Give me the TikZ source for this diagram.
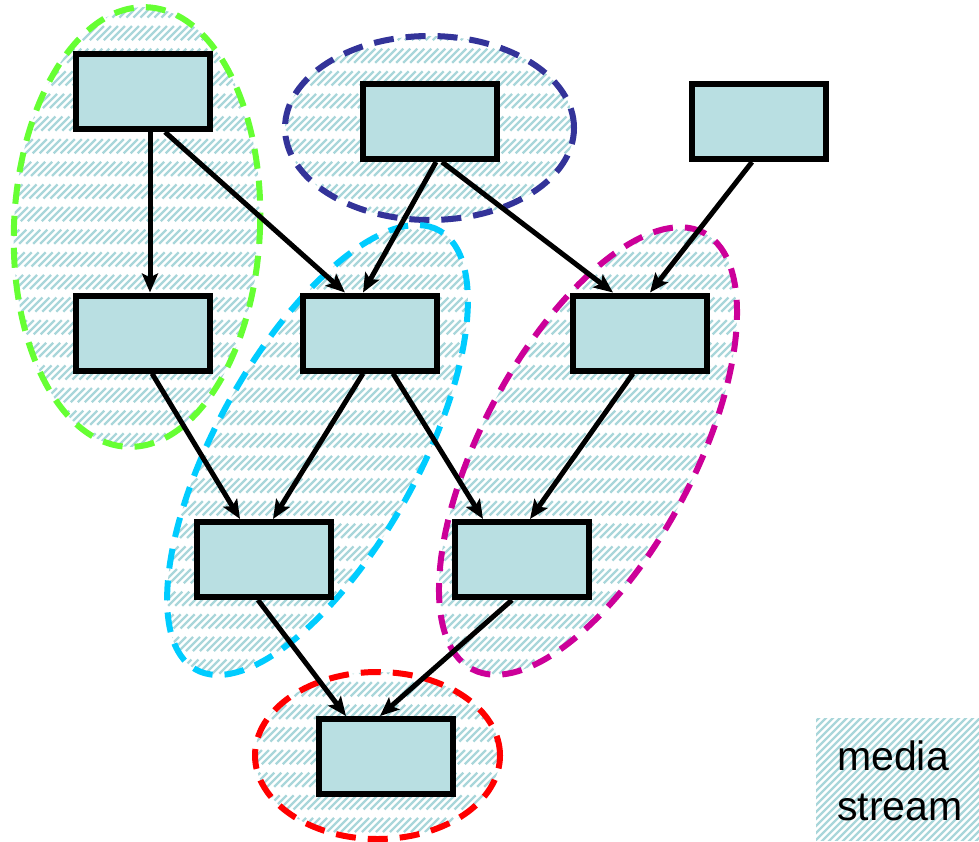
\documentclass[tikz,border=0pt]{standalone}
\usepackage{fontspec}
\setmainfont{Liberation Sans}
\usetikzlibrary{arrows.meta}

\definecolor{boxfill}{HTML}{B9DFE2}
\definecolor{hatch}{HTML}{A9D6DA}
\definecolor{grpgreen}{HTML}{66FF33}
\definecolor{grpblue}{HTML}{333399}
\definecolor{grpcyan}{HTML}{00CCFF}
\definecolor{grpmagenta}{HTML}{CC0099}
\definecolor{grpred}{HTML}{FF0000}

\begin{document}
\begin{tikzpicture}[%
    x=1pt, y=1pt,
    >={Stealth[length=19pt,width=16pt,inset=4pt]},
    block/.style={draw, line width=6pt, fill=boxfill,
      minimum width=134pt, minimum height=75pt, inner sep=0pt},
    flow/.style={->, line width=5pt},
    hatched/.style={path picture={
        \foreach \k in {-130,...,133}
          \draw[hatch, line width=2.4pt] (\k*7,-900) -- ++(900,900);
      }},
    stream/.style={hatched, draw=#1, line width=6pt,
      dash pattern=on 20pt off 12pt}
  ]
  \useasboundingbox (0,0) rectangle (979,-842);

  % media streams
  \draw[stream=grpgreen]   (137,-227)   ellipse [x radius=123, y radius=220, rotate=-2.6];
  \draw[stream=grpblue]    (429.5,-128) ellipse [x radius=144.5, y radius=92];
  \draw[stream=grpcyan]    (317.5,-450) ellipse [x radius=251, y radius=101, rotate=61];
  \draw[stream=grpmagenta] (588,-451)   ellipse [x radius=247, y radius=106, rotate=62];
  \draw[stream=grpred]     (377.5,-755.5) ellipse [x radius=122.5, y radius=83.5];

  % blocks
  \node[block] (A) at (143,-91.5)   {};
  \node[block] (B) at (430,-121.5)  {};
  \node[block] (C) at (759,-121.5)  {};
  \node[block] (D) at (143,-333)    {};
  \node[block] (E) at (369.5,-333)  {};
  \node[block] (F) at (640,-333)    {};
  \node[block] (G) at (264,-559.5)  {};
  \node[block] (H) at (521.5,-559.5) {};
  \node[block] (I) at (385.5,-756.5) {};

  \draw[flow] ([xshift=7pt]A.south)    -- ([xshift=7pt]D.north);
  \draw[flow] ([xshift=22pt]A.south)   -- ([xshift=-24.5pt]E.north);
  \draw[flow] ([xshift=6pt]B.south)    -- ([xshift=-6.5pt]E.north);
  \draw[flow] ([xshift=12pt]B.south)   -- ([xshift=-27pt]F.north);
  \draw[flow] ([xshift=-7pt]C.south)   -- ([xshift=10pt]F.north);
  \draw[flow] ([xshift=9pt]D.south)    -- ([xshift=-24pt]G.north);
  \draw[flow] ([xshift=-6.5pt]E.south) -- ([xshift=9pt]G.north);
  \draw[flow] ([xshift=23.5pt]E.south) -- ([xshift=-38.5pt]H.north);
  \draw[flow] ([xshift=-7pt]F.south)   -- ([xshift=8.5pt]H.north);
  \draw[flow] ([xshift=-6pt]G.south)   -- ([xshift=-39.5pt]I.north);
  \draw[flow] ([xshift=-9.5pt]H.south) -- ([xshift=-5.5pt]I.north);

  % legend
  \path[hatched] (816,-718) rectangle (979,-840);
  \node (key) [anchor=base west, align=left, inner sep=0pt,
    font=\fontsize{41}{50}\selectfont] at (837,-820) {media\\stream};
\end{tikzpicture}
\end{document}
